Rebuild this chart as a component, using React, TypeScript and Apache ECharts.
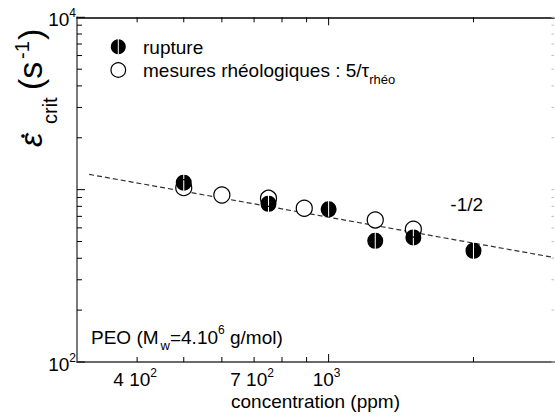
import React, { useEffect, useRef } from 'react';
import * as echarts from 'echarts';

const FONT = "'Liberation Sans', Arial, Helvetica, sans-serif";

// data
const ruptureConc = [500, 750, 1000, 1250, 1500, 2000];
const ruptureRate = [1098, 828, 769, 505, 528, 442];
const rheoConc = [500, 600, 750, 890, 1250, 1500];
const rheoRate = [1027, 931, 891, 780, 667, 590];
const fitConc = [318, 2940];
const fitRate = [1226, 404];

// axes
const xMin = 300;
const xMax = 2940;
const yMin = 100;
const yMax = 10000;
const xMajorTicks = [1000];
const xMinorTicks = [400, 500, 600, 700, 800, 900, 2000];
const xTickLabelValues = [400, 700, 1000];
const xTickLabelBase = ['4 10', '7 10', '10'];
const xTickLabelExp = ['2', '2', '3'];
const yMajorTicks = [100, 1000, 10000];
const yMinorTicks = [200, 300, 400, 500, 600, 700, 800, 900, 2000, 3000, 4000, 5000, 6000, 7000, 8000, 9000];
const yTickLabelValues = [100, 10000];
const yTickLabelBase = ['10', '10'];
const yTickLabelExp = ['2', '4'];

const SPLIT_SYMBOL = 'path://M9.3,0A10,10,0,0,0,9.3,20ZM10.7,0A10,10,0,0,1,10.7,20Z';

const RICH_SUP = {
  b: { fontSize: 19, fontFamily: FONT, lineHeight: 20, fill: '#000' },
  s: { fontSize: 12, fontFamily: FONT, lineHeight: 12, padding: [0, 0, 12, 0], fill: '#000' },
};

function xTickSeries(values: number[], len: number) {
  return {
    type: 'custom',
    xAxisIndex: 0,
    yAxisIndex: 0,
    silent: true,
    z: 6,
    data: values.map((v) => [v, yMin]),
    renderItem: (_params: any, api: any) => {
      const v = api.value(0);
      const b = api.coord([v, yMin]);
      const t = api.coord([v, yMax]);
      return {
        type: 'group',
        children: [
          { type: 'line', shape: { x1: b[0], y1: b[1], x2: b[0], y2: b[1] - len }, style: { stroke: '#000', lineWidth: 1 } },
          { type: 'line', shape: { x1: t[0], y1: t[1], x2: t[0], y2: t[1] + len }, style: { stroke: '#000', lineWidth: 1 } },
        ],
      };
    },
  };
}

function yTickSeries(values: number[], len: number) {
  return {
    type: 'custom',
    xAxisIndex: 0,
    yAxisIndex: 0,
    silent: true,
    z: 6,
    data: values.map((v) => [xMin, v]),
    renderItem: (_params: any, api: any) => {
      const v = api.value(1);
      const l = api.coord([xMin, v]);
      const r = api.coord([xMax, v]);
      return {
        type: 'group',
        children: [
          { type: 'line', shape: { x1: l[0], y1: l[1], x2: l[0] + len, y2: l[1] }, style: { stroke: '#000', lineWidth: 1 } },
          { type: 'line', shape: { x1: r[0] - 2.5, y1: r[1], x2: r[0], y2: r[1] }, style: { stroke: '#bbb', lineWidth: 1 } },
        ],
      };
    },
  };
}

export default function App() {
  const ref = useRef<HTMLDivElement>(null);

  useEffect(() => {
    document.body.style.margin = '0';
    const chart = echarts.init(ref.current as HTMLDivElement, null, { renderer: 'svg' });

    const axisCommon = {
      type: 'log',
      logBase: 10,
      axisTick: { show: false },
      axisLabel: { show: false },
      splitLine: { show: false },
    };

    const option: any = {
      animation: false,
      backgroundColor: '#fff',
      textStyle: { fontFamily: FONT },
      grid: { left: 77, top: 17.3, right: 1, bottom: 52.7, containLabel: false },
      xAxis: [
        {
          ...axisCommon,
          min: xMin,
          max: xMax,
          position: 'bottom',
          axisLine: { show: true, onZero: false, lineStyle: { color: '#6a6a6a', width: 2 } },
          name: 'concentration (ppm)',
          nameLocation: 'middle',
          nameGap: 30,
          nameTextStyle: { fontSize: 19, color: '#000', fontFamily: FONT },
        },
        {
          ...axisCommon,
          min: xMin,
          max: xMax,
          position: 'top',
          axisLine: { show: true, onZero: false, lineStyle: { color: '#000', width: 1.5 } },
        },
      ],
      yAxis: [
        {
          ...axisCommon,
          min: yMin,
          max: yMax,
          position: 'left',
          axisLine: { show: true, onZero: false, lineStyle: { color: '#7a7a7a', width: 2 } },
        },
      ],
      series: [
        {
          type: 'line',
          xAxisIndex: 0,
          yAxisIndex: 0,
          data: fitConc.map((c, i) => [c, fitRate[i]]),
          symbol: 'none',
          lineStyle: { color: '#333', width: 1.2, type: [5, 3] },
          z: 2,
          silent: true,
        },
        {
          type: 'scatter',
          name: 'mesures rhéologiques',
          xAxisIndex: 0,
          yAxisIndex: 0,
          data: rheoConc.map((c, i) => [c, rheoRate[i]]),
          symbol: 'circle',
          symbolSize: 16,
          itemStyle: { color: '#fff', borderColor: '#000', borderWidth: 1.2, opacity: 1 },
          z: 3,
        },
        {
          type: 'scatter',
          name: 'rupture',
          xAxisIndex: 0,
          yAxisIndex: 0,
          data: ruptureConc.map((c, i) => [c, ruptureRate[i]]),
          symbol: SPLIT_SYMBOL,
          symbolSize: 16,
          itemStyle: { color: '#000', opacity: 1 },
          z: 4,
        },
        xTickSeries(xMinorTicks, 5),
        xTickSeries(xMajorTicks, 8),
        yTickSeries(yMinorTicks, 5),
        yTickSeries(yMajorTicks, 8),
        {
          type: 'custom',
          xAxisIndex: 0,
          yAxisIndex: 0,
          silent: true,
          z: 6,
          data: xTickLabelValues.map((v) => [v, yMin]),
          renderItem: (params: any, api: any) => {
            const i = params.dataIndex;
            const p = api.coord([api.value(0), yMin]);
            return {
              type: 'text',
              x: p[0] - 2,
              y: p[1] + 17,
              style: {
                text: `{b|${xTickLabelBase[i]}}{s|${xTickLabelExp[i]}}`,
                rich: RICH_SUP,
                align: 'center',
                verticalAlign: 'middle',
                fill: '#000',
              },
            };
          },
        },
        {
          type: 'custom',
          xAxisIndex: 0,
          yAxisIndex: 0,
          silent: true,
          z: 6,
          data: yTickLabelValues.map((v) => [xMin, v]),
          renderItem: (params: any, api: any) => {
            const i = params.dataIndex;
            const p = api.coord([xMin, api.value(1)]);
            return {
              type: 'text',
              x: p[0] - 1,
              y: p[1] + 2,
              style: {
                text: `{b|${yTickLabelBase[i]}}{s|${yTickLabelExp[i]}}`,
                rich: RICH_SUP,
                align: 'right',
                verticalAlign: 'middle',
                fill: '#000',
              },
            };
          },
        },
      ],
      graphic: [
        // legend
        { type: 'circle', shape: { cx: 118.3, cy: 46.7, r: 7.5 }, style: { fill: '#000' }, z: 10 },
        { type: 'line', shape: { x1: 118.3, y1: 39, x2: 118.3, y2: 54.4 }, style: { stroke: '#fff', lineWidth: 1 }, z: 11 },
        { type: 'circle', shape: { cx: 118.3, cy: 70, r: 7.3 }, style: { fill: '#fff', stroke: '#000', lineWidth: 1.2 }, z: 10 },
        {
          type: 'text', x: 143, y: 47, z: 10,
          style: { text: 'rupture', fontSize: 19, fontFamily: FONT, fill: '#000', verticalAlign: 'middle' },
        },
        {
          type: 'text', x: 143, y: 70, z: 10,
          style: {
            text: '{a|mesures rhéologiques : 5/τ}{b|rhéo}',
            verticalAlign: 'middle',
            fill: '#000',
            rich: {
              a: { fontSize: 19, fontFamily: FONT, lineHeight: 19, fill: '#000' },
              b: { fontSize: 13, fontFamily: FONT, lineHeight: 13, padding: [18, 0, 0, 0], fill: '#000' },
            },
          },
        },
        // slope annotation
        {
          type: 'text', x: 466.7, y: 204, z: 10,
          style: { text: '-1/2', fontSize: 19, fontFamily: FONT, fill: '#000', align: 'center', verticalAlign: 'middle' },
        },
        // polymer info
        {
          type: 'text', x: 91, y: 337, z: 10,
          style: {
            text: '{a|PEO (M}{w|w}{a|=4.10}{e|6}{a| g/mol)}',
            verticalAlign: 'middle',
            fill: '#000',
            rich: {
              a: { fontSize: 19, fontFamily: FONT, lineHeight: 19, fill: '#000' },
              w: { fontSize: 13, fontFamily: FONT, lineHeight: 13, padding: [16, 0, 0, 2], fill: '#000' },
              e: { fontSize: 12, fontFamily: FONT, lineHeight: 12, padding: [0, 0, 14, 0], fill: '#000' },
            },
          },
        },
        // y axis title (rotated)
        {
          type: 'group',
          x: 42,
          y: 147,
          rotation: Math.PI / 2,
          z: 10,
          children: [
            { type: 'text', x: 0, y: -11, style: { text: 'ε', fontSize: 32, fontStyle: 'italic', fontFamily: FONT, fill: '#000', verticalAlign: 'middle' } },
            { type: 'circle', shape: { cx: 11, cy: -19, r: 1.8 }, style: { fill: '#000' } },
            { type: 'text', x: 23, y: 8, style: { text: 'crit', fontSize: 20, fontFamily: FONT, fill: '#000', verticalAlign: 'middle' } },
            { type: 'text', x: 57, y: -12, style: { text: '(s', fontSize: 34, fontFamily: FONT, fill: '#000', verticalAlign: 'middle' } },
            { type: 'text', x: 88, y: -20, style: { text: '-1', fontSize: 20, fontFamily: FONT, fill: '#000', verticalAlign: 'middle' } },
            { type: 'text', x: 107, y: -12, style: { text: ')', fontSize: 34, fontFamily: FONT, fill: '#000', verticalAlign: 'middle' } },
          ],
        },
      ],
    };

    chart.setOption(option);
    return () => chart.dispose();
  }, []);

  return <div ref={ref} style={{ width: 555, height: 416 }} />;
}
